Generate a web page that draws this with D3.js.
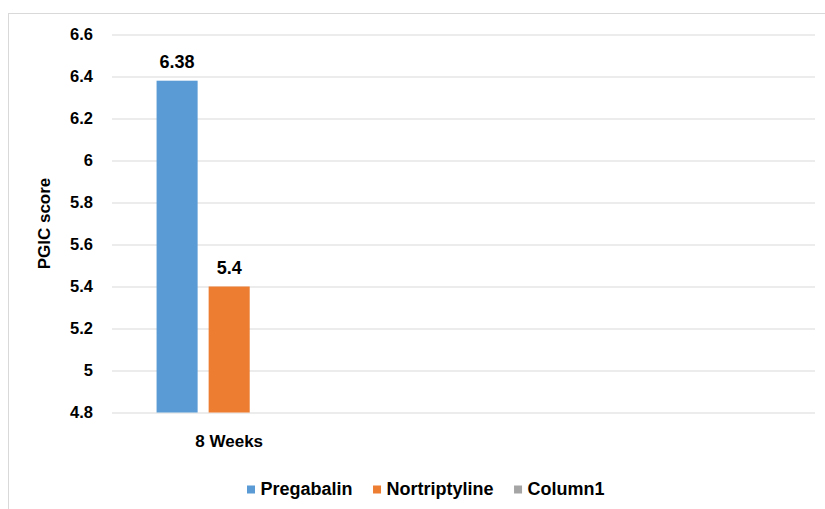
<!DOCTYPE html>
<html>
<head>
<meta charset="utf-8">
<script src="https://cdn.jsdelivr.net/npm/d3@7"></script>
<style>
  html, body { margin: 0; padding: 0; background: #fff; }
  svg { display: block; font-family: "Liberation Sans", Arial, sans-serif; font-weight: bold; }
  .grid line { stroke: #d9d9d9; stroke-width: 1; }
  .axis .domain { display: none; }
  .axis .tick line { display: none; }
</style>
</head>
<body>
<svg id="chart"></svg>
<script>
'use strict';

// ---------------------------------------------------------
// DATA
// ---------------------------------------------------------
const categories = ['8 Weeks', '', ''];
const seriesNames = ['Pregabalin', 'Nortriptyline', 'Column1'];
const seriesColors = ['#5b9bd5', '#ed7d31', '#a5a5a5'];
const pregabalin = [6.38, null, null];
const nortriptyline = [5.4, null, null];
const column1 = [null, null, null];
const yTicks = [4.8, 5, 5.2, 5.4, 5.6, 5.8, 6, 6.2, 6.4, 6.6];
const yTitle = 'PGIC score';

const seriesValues = [pregabalin, nortriptyline, column1];

// ---------------------------------------------------------
// SVG CREATION
// ---------------------------------------------------------
const W = 825, H = 509;
const margin = { top: 34.5, right: 10, bottom: 96.5, left: 112 };
const width = 815 - margin.left,
  height = 412.5 - margin.top;

const root = d3.select('#chart').attr('width', W).attr('height', H);

// chart frame
root.append('rect')
  .attr('x', 8.5).attr('y', 13.5)
  .attr('width', W + 20).attr('height', H + 20)
  .style('fill', '#fff').style('stroke', '#d9d9d9').style('stroke-width', 1);

const svg = root.append('g').attr('transform', `translate(${ margin.left }, ${ margin.top })`);

const x = d3.scaleBand().domain(d3.range(categories.length)).range([0, width]).padding(0);
const xs = d3.scaleBand().domain(seriesNames).range([0, x.bandwidth()]).paddingInner(0.2115).paddingOuter(0.856);
const y = d3.scaleLinear().domain([4.8, 6.6]).range([height, 0]);

// GRID
svg.append('g').attr('class', 'grid')
  .selectAll('line').data(yTicks).join('line')
  .attr('x1', 0).attr('x2', width)
  .attr('y1', d => Math.round(y(d)) + 0.5).attr('y2', d => Math.round(y(d)) + 0.5);

// AXES
svg.append('g').attr('class', 'y axis')
  .call(d3.axisLeft(y).tickValues(yTicks).tickSize(0).tickPadding(19).tickFormat(d => String(+d.toFixed(1))))
  .selectAll('text').style('font-size', '16.5px').style('fill', '#000').style('font-family', 'inherit');

svg.append('g').attr('class', 'x axis').attr('transform', `translate(0, ${ height })`)
  .call(d3.axisBottom(x).tickSize(0).tickPadding(22).tickFormat(i => categories[i]))
  .selectAll('text').style('font-size', '17px').style('fill', '#000').style('font-family', 'inherit');

svg.append('text')
  .attr('transform', `translate(${ 50 - margin.left }, ${ height / 2 }) rotate(-90)`)
  .attr('text-anchor', 'middle')
  .style('font-size', '17px')
  .text(yTitle);

// BARS
const barData = [];
seriesValues.forEach((vals, s) => vals.forEach((v, i) => {
  if (v !== null) barData.push({ cat: i, series: seriesNames[s], color: seriesColors[s], value: v });
}));

svg.append('g').selectAll('rect').data(barData).join('rect')
  .attr('x', d => x(d.cat) + xs(d.series))
  .attr('width', xs.bandwidth())
  .attr('y', d => y(d.value))
  .attr('height', d => height - y(d.value))
  .style('fill', d => d.color);

svg.append('g').selectAll('text').data(barData).join('text')
  .attr('x', d => x(d.cat) + xs(d.series) + xs.bandwidth() / 2)
  .attr('y', d => y(d.value) - 13)
  .attr('text-anchor', 'middle')
  .style('font-size', '18px')
  .text(d => d.value);

// LEGEND
const legend = root.append('g').attr('transform', 'translate(247, 495)');
let lx = 0;
seriesNames.forEach((name, s) => {
  const item = legend.append('g').attr('transform', `translate(${ lx }, 0)`);
  item.append('rect').attr('x', 0).attr('y', -9.5).attr('width', 8).attr('height', 8).style('fill', seriesColors[s]);
  const t = item.append('text').attr('x', 13.5).attr('y', 0).style('font-size', '18px').text(name);
  lx += 13.5 + t.node().getComputedTextLength() + 20.5;
});
</script>
</body>
</html>
